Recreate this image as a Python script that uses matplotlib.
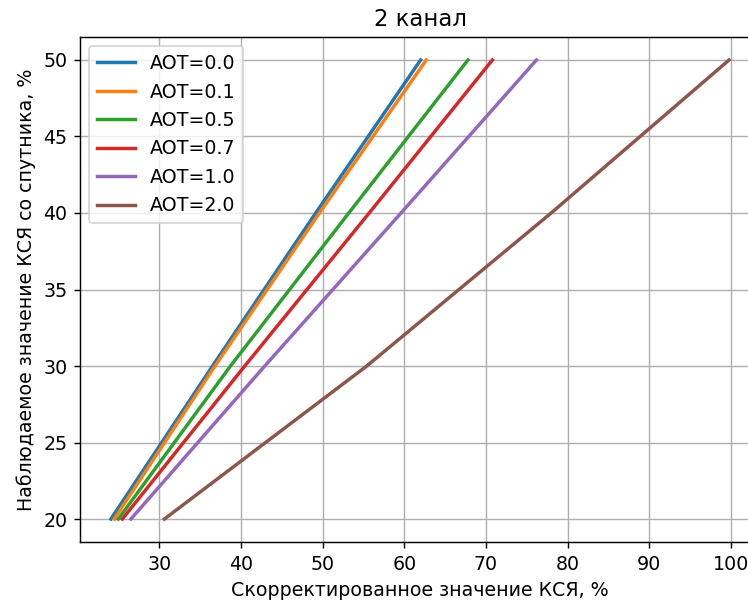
import matplotlib
matplotlib.use("Agg")
import matplotlib.pyplot as plt

# Observed (satellite) reflectance levels, %
observed = [20, 30, 40, 50]

# Corrected reflectance for each aerosol optical thickness, %
aot_labels = ["AOT=0.0", "AOT=0.1", "AOT=0.5", "AOT=0.7", "AOT=1.0", "AOT=2.0"]
corr_aot00 = [24.05, 36.5, 49.15, 62.0]
corr_aot01 = [24.45, 36.8, 49.6, 62.7]
corr_aot05 = [24.95, 38.7, 53.2, 67.8]
corr_aot07 = [25.45, 40.45, 55.7, 70.8]
corr_aot10 = [26.5, 42.9, 59.6, 76.2]
corr_aot20 = [30.6, 55.4, 78.0, 99.8]

series = [corr_aot00, corr_aot01, corr_aot05, corr_aot07, corr_aot10, corr_aot20]

plt.rcParams["font.size"] = 10.5

dpi = 130
fig = plt.figure(figsize=(748 / dpi, 602 / dpi), dpi=dpi)
ax = fig.add_axes([80 / 748, 60 / 602, 680 / 748, 505 / 602])

for xs, lab in zip(series, aot_labels):
    ax.plot(xs, observed, label=lab, linewidth=1.9)

ax.set_title("2 канал")
ax.set_xlabel("Скорректированное значение КСЯ, %")
ax.set_ylabel("Наблюдаемое значение КСЯ со спутника, %")
ax.set_xticks([30, 40, 50, 60, 70, 80, 90, 100])
ax.set_yticks([20, 25, 30, 35, 40, 45, 50])
ax.set_ylim(18.5, 51.5)
ax.grid(True)
ax.legend(loc="upper left")

fig.savefig("out.png", dpi=dpi)
